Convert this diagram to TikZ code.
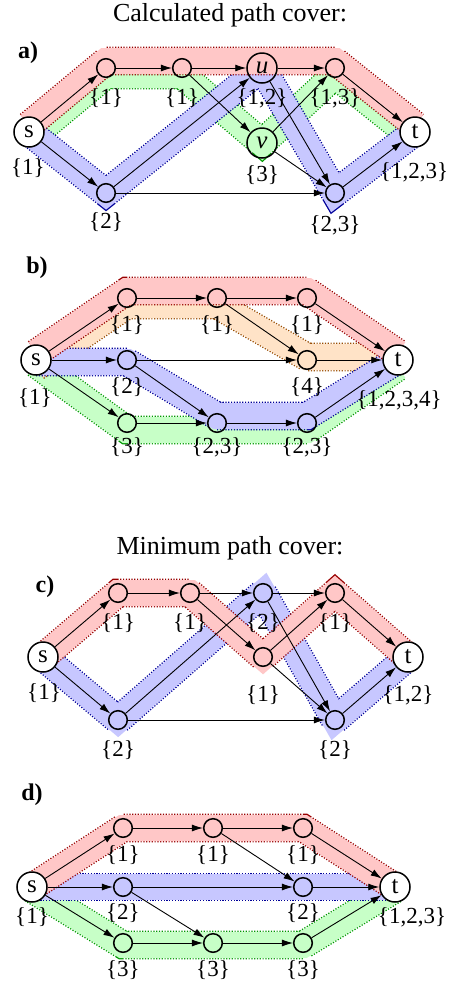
\documentclass[tikz,border=0pt]{standalone}
\usepackage{fontspec}
\setmainfont{Liberation Serif}
\usetikzlibrary{arrows.meta, backgrounds, calc}
\tikzset{
  vertex/.style={
    circle,
    draw,
    line width=0.75pt,
    minimum size=9.3pt,
    inner sep=0pt
  },
  bignode/.style={
    circle,
    draw,
    line width=0.75pt,
    minimum size=15pt,
    inner sep=0pt,
    font=\fontsize{12.5}{12.5}\selectfont
  },
  terminal/.style={
    bignode,
    fill=white
  },
  lbl/.style={font=\fontsize{11.5}{12}\selectfont, inner sep=0pt},
  heading/.style={font=\fontsize{13}{14}\selectfont},
  tag/.style={font=\bfseries\fontsize{12}{12}\selectfont},
  arrow/.style={-{Latex[length=5.5pt,width=3.5pt]}, line width=0.45pt},
  band/.style={
    line width=13pt,
    draw=#1!22,
    line join=miter,
    preaction={draw=#1!60!black, line width=14.3pt, dash pattern=on 0.6pt off 0.8pt}
  }
}

\begin{document}
\begin{tikzpicture}[x=0.5pt,y=-0.5pt]
\useasboundingbox (0,0) rectangle (451,987);

\node[heading] (titlea) at (230,15) {Calculated path cover:};
\node[tag] (taga) at (28,53) {a)};
\node[terminal] (sa) at (29,132) {s};
\node[vertex] (a1) at (106,68) {};
\node[vertex] (a2) at (182,68) {};
\node[bignode] (ua) at (262,68) {\textit{u}};
\node[vertex] (a4) at (335,68) {};
\node[bignode] (va) at (262,143) {\textit{v}};
\node[vertex] (a5) at (106,193) {};
\node[vertex] (a6) at (335,193) {};
\node[terminal] (ta) at (415,132) {t};
\node[lbl] (sal) at (28,168) {\{1\}};
\node[lbl] (a1l) at (106,98) {\{1\}};
\node[lbl] (a2l) at (182,98) {\{1\}};
\node[lbl] (ual) at (262,98) {\{1,2\}};
\node[lbl] (a4l) at (335,98) {\{1,3\}};
\node[lbl] (val) at (262,175) {\{3\}};
\node[lbl] (a5l) at (106,222) {\{2\}};
\node[lbl] (a6l) at (335,225) {\{2,3\}};
\node[lbl] (tal) at (414,172) {\{1,2,3\}};

\begin{scope}[on background layer]
\draw[band=green] ($(sa)+(0,7)$) -- ($(a1)+(0,7)$) -- ($(a2)+(0,7)$) -- (va.center) -- ($(a4)+(0,7)$) -- ($(ta)+(0,7)$);
\draw[band=blue] (sa.center) -- (a5.center) -- (ua.center) -- (a6.center) -- (ta.center);
\draw[band=red] ($(sa)+(0,-7)$) -- ($(a1)+(0,-7)$) -- ($(a2)+(0,-7)$) -- ($(ua)+(0,-7)$) -- ($(a4)+(0,-7)$) -- ($(ta)+(0,-7)$);
\end{scope}

\draw[arrow] (sa) -- (a1);
\draw[arrow] (sa) -- (a5);
\draw[arrow] (a1) -- (a2);
\draw[arrow] (a2) -- (ua);
\draw[arrow] (a2) -- (va);
\draw[arrow] (ua) -- (a4);
\draw[arrow] (ua) -- (a6);
\draw[arrow] (va) -- (a4);
\draw[arrow] (va) -- (a6);
\draw[arrow] (a5) -- (ua);
\draw[arrow] (a5) -- (a6);
\draw[arrow] (a4) -- (ta);
\draw[arrow] (a6) -- (ta);

\node[tag] (tagb) at (37,268) {b)};
\node[terminal] (sb) at (36,360) {s};
\node[vertex] (b1) at (127,298) {};
\node[vertex] (b2) at (217,298) {};
\node[vertex] (b3) at (307,298) {};
\node[vertex] (b4) at (127,360) {};
\node[vertex] (b5) at (307,360) {};
\node[vertex] (b6) at (127,423) {};
\node[vertex] (b7) at (217,423) {};
\node[vertex] (b8) at (307,423) {};
\node[terminal] (tb) at (398,360) {t};
\node[lbl] (sbl) at (35,398) {\{1\}};
\node[lbl] (b1l) at (127,325) {\{1\}};
\node[lbl] (b2l) at (217,325) {\{1\}};
\node[lbl] (b3l) at (307,325) {\{1\}};
\node[lbl] (b4l) at (127,387) {\{2\}};
\node[lbl] (b5l) at (307,387) {\{4\}};
\node[lbl] (b6l) at (127,447) {\{3\}};
\node[lbl] (b7l) at (217,447) {\{2,3\}};
\node[lbl] (b8l) at (307,447) {\{2,3\}};
\node[lbl] (tbl) at (399,400) {\{1,2,3,4\}};

\begin{scope}[on background layer]
\draw[band=green] ($(sb)+(0,4)$) -- ($(b6)+(0,7)$) -- ($(b7)+(0,7)$) -- ($(b8)+(0,7)$) -- ($(tb)+(0,7)$);
\draw[band=orange] ($(sb)+(0,7)$) -- ($(b1)+(0,7)$) -- ($(b2)+(0,7)$) -- ($(b5)+(0,-3)$) -- ($(tb)+(0,-3)$);
\draw[band=blue] ($(sb)+(0,2)$) -- ($(b4)+(0,2)$) -- ($(b7)+(0,-7)$) -- ($(b8)+(0,-7)$) -- (tb.center);
\draw[band=red] ($(sb)+(0,-7)$) -- ($(b1)+(0,-7)$) -- ($(b2)+(0,-7)$) -- ($(b3)+(0,-7)$) -- ($(tb)+(0,-7)$);
\end{scope}

\draw[arrow] (sb) -- (b1);
\draw[arrow] (sb) -- (b4);
\draw[arrow] (sb) -- (b6);
\draw[arrow] (b1) -- (b2);
\draw[arrow] (b2) -- (b3);
\draw[arrow] (b2) -- (b5);
\draw[arrow] (b3) -- (tb);
\draw[arrow] (b4) -- (b5);
\draw[arrow] (b4) -- (b7);
\draw[arrow] (b6) -- (b7);
\draw[arrow] (b7) -- (b8);
\draw[arrow] (b8) -- (tb);
\draw[arrow] (b5) -- (tb);

\node[heading] (titlec) at (230,548) {Minimum path cover:};
\node[tag] (tagc) at (45,587) {c)};
\node[terminal] (sc) at (43,657) {s};
\node[vertex] (c1) at (118,593) {};
\node[vertex] (c2) at (190,593) {};
\node[vertex] (c3) at (263,593) {};
\node[vertex] (c4) at (335,593) {};
\node[vertex] (c5) at (263,657) {};
\node[vertex] (c6) at (118,720) {};
\node[vertex] (c7) at (335,720) {};
\node[terminal] (tc) at (408,657) {t};
\node[lbl] (scl) at (44,693) {\{1\}};
\node[lbl] (c1l) at (118,623) {\{1\}};
\node[lbl] (c2l) at (190,623) {\{1\}};
\node[lbl] (c3l) at (263,623) {\{2\}};
\node[lbl] (c4l) at (335,623) {\{1\}};
\node[lbl] (c5l) at (263,695) {\{1\}};
\node[lbl] (c6l) at (118,750) {\{2\}};
\node[lbl] (c7l) at (335,750) {\{2\}};
\node[lbl] (tcl) at (408,695) {\{1,2\}};

\begin{scope}[on background layer]
\draw[band=blue] (sc.center) -- (c6.center) -- (c3.center) -- (c7.center) -- (tc.center);
\draw[band=red] (sc.center) -- (c1.center) -- (c2.center) -- (c5.center) -- (c4.center) -- (tc.center);
\end{scope}

\draw[arrow] (sc) -- (c1);
\draw[arrow] (sc) -- (c6);
\draw[arrow] (c1) -- (c2);
\draw[arrow] (c2) -- (c3);
\draw[arrow] (c2) -- (c5);
\draw[arrow] (c3) -- (c4);
\draw[arrow] (c3) -- (c7);
\draw[arrow] (c5) -- (c4);
\draw[arrow] (c5) -- (c7);
\draw[arrow] (c6) -- (c3);
\draw[arrow] (c6) -- (c7);
\draw[arrow] (c4) -- (tc);
\draw[arrow] (c7) -- (tc);

\node[tag] (tagd) at (32,795) {d)};
\node[terminal] (sd) at (32,887) {s};
\node[vertex] (d1) at (123,828) {};
\node[vertex] (d2) at (213,828) {};
\node[vertex] (d3) at (303,828) {};
\node[vertex] (d4) at (123,887) {};
\node[vertex] (d5) at (303,887) {};
\node[vertex] (d6) at (123,943) {};
\node[vertex] (d7) at (213,943) {};
\node[vertex] (d8) at (303,943) {};
\node[terminal] (td) at (395,887) {t};
\node[lbl] (sdl) at (32,917) {\{1\}};
\node[lbl] (d1l) at (123,855) {\{1\}};
\node[lbl] (d2l) at (213,855) {\{1\}};
\node[lbl] (d3l) at (303,855) {\{1\}};
\node[lbl] (d4l) at (123,913) {\{2\}};
\node[lbl] (d5l) at (303,913) {\{2\}};
\node[lbl] (d6l) at (123,970) {\{3\}};
\node[lbl] (d7l) at (213,970) {\{3\}};
\node[lbl] (d8l) at (303,970) {\{3\}};
\node[lbl] (tdl) at (412,917) {\{1,2,3\}};

\begin{scope}[on background layer]
\draw[band=green] ($(sd)+(0,2)$) -- ($(d6)+(0,2)$) -- ($(d7)+(0,2)$) -- ($(d8)+(0,2)$) -- ($(td)+(0,2)$);
\draw[band=blue] (sd.center) -- (d4.center) -- (d5.center) -- (td.center);
\draw[band=red] (sd.center) -- (d1.center) -- (d2.center) -- (d3.center) -- (td.center);
\end{scope}

\draw[arrow] (sd) -- (d1);
\draw[arrow] (sd) -- (d4);
\draw[arrow] (sd) -- (d6);
\draw[arrow] (d1) -- (d2);
\draw[arrow] (d2) -- (d3);
\draw[arrow] (d2) -- (d5);
\draw[arrow] (d3) -- (td);
\draw[arrow] (d4) -- (d5);
\draw[arrow] (d4) -- (d7);
\draw[arrow] (d6) -- (d7);
\draw[arrow] (d7) -- (d8);
\draw[arrow] (d8) -- (td);
\draw[arrow] (d5) -- (td);
\end{tikzpicture}
\end{document}
